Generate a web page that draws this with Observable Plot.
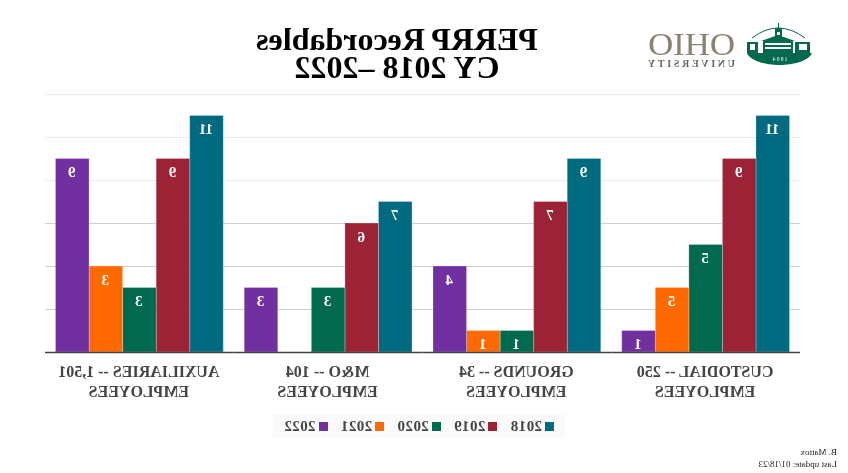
<!DOCTYPE html>
<html>
<head>
<meta charset="utf-8">
<script src="https://cdn.jsdelivr.net/npm/d3@7"></script>
<script src="https://cdn.jsdelivr.net/npm/@observablehq/plot@0.6"></script>
<style>
html,body{margin:0;padding:0;background:#fff;}
#stage{position:relative;width:848px;height:473px;overflow:hidden;transform:scaleX(-1);font-family:"Liberation Serif",serif;}
#stage>*{position:absolute;}
#title{left:209px;width:484px;top:25px;text-align:center;font-weight:bold;font-size:32px;line-height:28px;color:#000;}
#chart{left:0;top:80px;}
#legend{left:283px;top:414px;width:292px;height:24px;background:#fafafa;display:flex;justify-content:center;align-items:center;gap:13px;font-size:15px;color:#444;font-weight:bold;letter-spacing:.4px;}
#legend i{display:inline-block;width:9px;height:9px;margin-right:3px;}
#credit{left:0;width:848px;top:446px;padding-left:11px;box-sizing:border-box;font-size:9px;line-height:12px;color:#222;}
#logo{left:30px;top:20px;}
</style>
</head>
<body>
<div id="stage">
  <svg id="logo" width="170" height="55" viewBox="0 0 170 55">
    <path d="M6 33 L71 33 C68 41 52 45 38.5 45 C25 45 9 41 6 33Z" fill="#00694e"/>
    <path d="M13 18 Q40 -2 66 18" fill="none" stroke="#00694e" stroke-width="1"/>
    <rect x="25" y="21" width="30" height="12" fill="#00694e"/>
    <path d="M23 21 L40 15 L57 21Z" fill="#00694e"/>
    <rect x="36" y="8" width="7" height="13" fill="#00694e"/>
    <rect x="39" y="3" width="1" height="6" fill="#00694e"/>
    <rect x="8" y="22" width="15" height="11" fill="#00694e"/>
    <rect x="60" y="22" width="11" height="11" fill="#00694e"/>
    <rect x="27" y="23" width="26" height="2" fill="#fff"/>
    <rect x="27" y="27" width="26" height="2" fill="#fff"/>
    <rect x="11" y="24" width="8" height="6" fill="#fff"/>
    <rect x="63" y="24" width="5" height="6" fill="#fff"/>
    <rect x="38" y="12" width="3" height="3" fill="#fff"/>
    <text x="38.5" y="41" text-anchor="middle" font-family="Liberation Serif" font-size="5.5" fill="#fff" letter-spacing="1.2">1804</text>
    <text x="83" y="35" font-family="Liberation Serif" font-size="31" fill="#8b8270" textLength="87" lengthAdjust="spacingAndGlyphs">OHIO</text>
    <text x="83" y="47" font-family="Liberation Serif" font-size="10" font-weight="bold" fill="#666" textLength="87" lengthAdjust="spacing">UNIVERSITY</text>
  </svg>
  <div id="title">PERRP Recordables<br>CY 2018 –2022</div>
  <div id="chart"></div>
  <div id="legend"></div>
  <div id="credit">B. Mattox<br>Last update: 01/18/23</div>
</div>
<script>
const categories = ["CUSTODIAL -- 250 EMPLOYEES","GROUNDS -- 34 EMPLOYEES","M&O -- 104 EMPLOYEES","AUXILIARIES -- 1,501 EMPLOYEES"];
const categoryLines = ["CUSTODIAL -- 250\nEMPLOYEES","GROUNDS -- 34\nEMPLOYEES","M&O -- 104\nEMPLOYEES","AUXILIARIES -- 1,501\nEMPLOYEES"];
const years = ["2018","2019","2020","2021","2022"];
const colors = ["#006a80","#9b2335","#00694e","#ff6a00","#7030a0"];
// bar heights as drawn
const v2018 = [11,9,7,11];
const v2019 = [9,7,6,9];
const v2020 = [5,1,3,3];
const v2021 = [3,1,0,4];
const v2022 = [1,4,3,9];
// labels as printed
const l2018 = ["11","9","7","11"];
const l2019 = ["9","7","6","9"];
const l2020 = ["5","1","3","3"];
const l2021 = ["5","1","","3"];
const l2022 = ["1","4","3","9"];
const gridLower = [2,4,6];
const gridUpper = [8,10,12];

const vals = [v2018,v2019,v2020,v2021,v2022];
const labs = [l2018,l2019,l2020,l2021,l2022];
const rows = [];
categories.forEach((c,i)=>years.forEach((y,j)=>{
  if (vals[j][i] > 0) rows.push({category:c,year:y,value:vals[j][i],label:labs[j][i]});
}));

const chart = Plot.plot({
  width:848,height:320,
  marginTop:14,marginBottom:48,marginLeft:48,marginRight:45,
  style:{background:"transparent",fontFamily:"Liberation Serif"},
  fx:{domain:categories,padding:0,label:null,round:false},
  x:{domain:years,paddingInner:0,paddingOuter:0.3125,axis:null,round:false},
  y:{domain:[0,12],axis:null},
  color:{domain:years,range:colors},
  marks:[
    Plot.ruleY(gridLower,{stroke:"#d0d0d0",strokeWidth:1}),
    Plot.ruleY(gridUpper,{stroke:"#eaeaea",strokeWidth:1}),
    Plot.barY(rows,{fx:"category",x:"year",y:"value",fill:"year",stroke:"#ffffff",strokeOpacity:0.25,strokeWidth:1}),
    Plot.text(rows,{fx:"category",x:"year",y:"value",text:"label",dy:13.5,fill:"#fff",fontWeight:"bold",fontSize:15}),
    Plot.ruleY([0],{stroke:"#444",strokeWidth:1.5}),
    Plot.axisFx({anchor:"bottom",label:null,tickSize:0,tickPadding:10,fontSize:16,lineHeight:1.25,fill:"#444",fontWeight:"bold",
      tickFormat:(d)=>categoryLines[categories.indexOf(d)]})
  ]
});
document.getElementById("chart").appendChild(chart);

const legend = document.getElementById("legend");
years.forEach((y,j)=>{
  const s=document.createElement("span");
  const b=document.createElement("i"); b.style.background=colors[j];
  s.appendChild(b); s.appendChild(document.createTextNode(y));
  legend.appendChild(s);
});
</script>
</body>
</html>
